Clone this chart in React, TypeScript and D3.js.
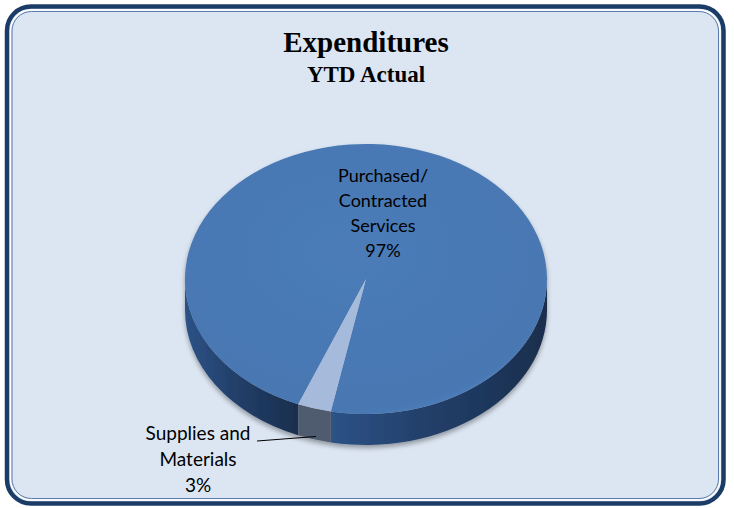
import React from "react";
import * as d3 from "d3";

const categories = ["Purchased/Contracted Services", "Supplies and Materials"];
const values = [97, 3];
const labelLines = [
  ["Purchased/", "Contracted", "Services", "97%"],
  ["Supplies and", "Materials", "3%"],
];
const titleLines = ["Expenditures", "YTD Actual"];

const W = 734;
const H = 508;

export default function App() {
  const cx = 366;
  const cy = 279;
  const rx = 181;
  const ry = 135;
  const depth = 31;
  const rad = (d: number) => (d * Math.PI) / 180;
  const start = rad(202);
  const arcs = d3
    .pie<number>()
    .sort(null)
    .startAngle(start)
    .endAngle(start + 2 * Math.PI)(values);

  const pt = (a: number, dy = 0): [number, number] => [
    cx + rx * Math.sin(a),
    cy - ry * Math.cos(a) + dy,
  ];

  const topFill = ["url(#topGrad)", "#a6bbdc"];
  const sideFill = ["url(#sideGrad)", "#4f5b70"];

  const topPath = (a0: number, a1: number) => {
    const p0 = pt(a0);
    const p1 = pt(a1);
    const large = a1 - a0 > Math.PI ? 1 : 0;
    return `M${cx},${cy}L${p0[0]},${p0[1]}A${rx},${ry} 0 ${large} 1 ${p1[0]},${p1[1]}Z`;
  };

  const sidePath = (a0: number, a1: number) => {
    const p0 = pt(a0);
    const p1 = pt(a1);
    const q1 = pt(a1, depth);
    const q0 = pt(a0, depth);
    const large = a1 - a0 > Math.PI ? 1 : 0;
    return `M${p0[0]},${p0[1]}A${rx},${ry} 0 ${large} 1 ${p1[0]},${p1[1]}L${q1[0]},${q1[1]}A${rx},${ry} 0 ${large} 0 ${q0[0]},${q0[1]}Z`;
  };

  const fronts = [
    [rad(90), rad(270)],
    [rad(450), rad(630)],
  ];
  const sides: { d: string; i: number }[] = [];
  arcs.forEach((a, i) => {
    fronts.forEach(([f0, f1]) => {
      const b0 = Math.max(a.startAngle, f0);
      const b1 = Math.min(a.endAngle, f1);
      if (b1 > b0) sides.push({ d: sidePath(b0, b1), i });
    });
  });

  const labelFont = "Lato, 'Open Sans', sans-serif";
  const leaderStart: [number, number] = [257, 441];
  const leaderEnd: [number, number] = [316, 436.5];

  return (
    <svg
      width={W}
      height={H}
      style={{ position: "absolute", left: 0, top: 0, display: "block" }}
    >
      <defs>
        <linearGradient id="sideGrad" x1="0" x2="1" y1="0" y2="0">
          <stop offset="0" stopColor="#2d5286" />
          <stop offset="0.45" stopColor="#223f69" />
          <stop offset="1" stopColor="#1a2e4d" />
        </linearGradient>
        <radialGradient id="topGrad" cx="0.45" cy="0.4" r="0.65">
          <stop offset="0" stopColor="#4b7cb8" />
          <stop offset="0.9" stopColor="#4877b2" />
          <stop offset="1" stopColor="#5283bf" />
        </radialGradient>
        <filter id="shadow" x="-10%" y="-10%" width="120%" height="130%">
          <feGaussianBlur in="SourceAlpha" stdDeviation="2.5" />
          <feOffset dx="0" dy="3" result="b" />
          <feComponentTransfer>
            <feFuncA type="linear" slope="0.35" />
          </feComponentTransfer>
          <feMerge>
            <feMergeNode />
            <feMergeNode in="SourceGraphic" />
          </feMerge>
        </filter>
      </defs>
      <rect x={0} y={0} width={W} height={H} fill="#ffffff" />
      <rect
        x={7}
        y={6.5}
        width={716.5}
        height={497}
        rx={24}
        ry={24}
        fill="#dce6f2"
        stroke="#1b3c66"
        strokeWidth={4.5}
      />
      <rect
        x={10.5}
        y={10}
        width={709.5}
        height={490}
        rx={21}
        ry={21}
        fill="none"
        stroke="#ffffff"
        strokeWidth={1.3}
      />
      <rect
        x={12}
        y={11.5}
        width={706.5}
        height={487}
        rx={19.5}
        ry={19.5}
        fill="none"
        stroke="#5a7bab"
        strokeWidth={1}
      />

      <text
        x={366}
        y={52}
        textAnchor="middle"
        fontFamily="'Liberation Serif', 'Times New Roman', serif"
        fontWeight="bold"
        fontSize={29}
        fill="#000"
      >
        {titleLines[0]}
      </text>
      <text
        x={366}
        y={81.5}
        textAnchor="middle"
        fontFamily="'Liberation Serif', 'Times New Roman', serif"
        fontWeight="bold"
        fontSize={23}
        fill="#000"
      >
        {titleLines[1]}
      </text>

      <g filter="url(#shadow)">
        {sides.map((s, k) => (
          <path key={"s" + k} d={s.d} fill={sideFill[s.i]} />
        ))}
        {arcs.map((a, i) => (
          <path
            key={"t" + i}
            d={topPath(a.startAngle, a.endAngle)}
            fill={topFill[i]}
            data-name={categories[i]}
          />
        ))}
      </g>

      <g fontFamily={labelFont} fill="#000" textAnchor="middle">
        {labelLines[0].map((t, j) => (
          <text key={"l0" + j} x={383} y={182 + j * 25} fontSize={18}>
            {t}
          </text>
        ))}
        {labelLines[1].map((t, j) => (
          <text key={"l1" + j} x={198} y={440 + j * 26} fontSize={19}>
            {t}
          </text>
        ))}
      </g>
      <line
        x1={leaderStart[0]}
        y1={leaderStart[1]}
        x2={leaderEnd[0]}
        y2={leaderEnd[1]}
        stroke="#000"
        strokeWidth={1.2}
      />
    </svg>
  );
}
